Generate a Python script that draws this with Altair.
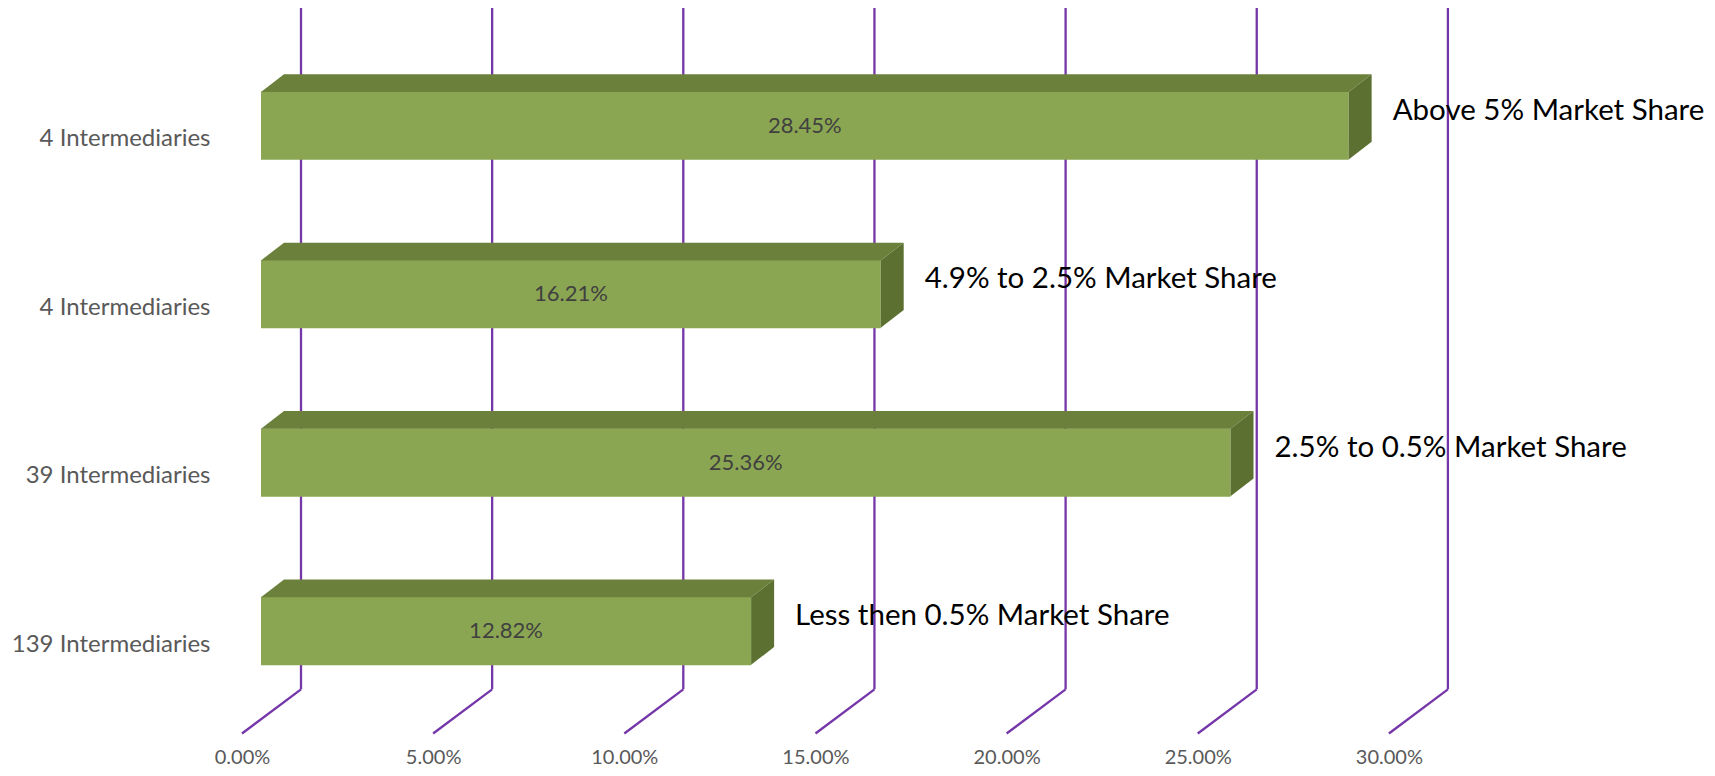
import altair as alt
import pandas as pd

# ---------------- data ----------------
categories = ["4 Intermediaries", "4 Intermediaries", "39 Intermediaries", "139 Intermediaries"]
shares = [28.45, 16.21, 25.36, 12.82]
bands = ["Above 5% Market Share", "4.9% to 2.5% Market Share",
         "2.5% to 0.5% Market Share", "Less then 0.5% Market Share"]
ticks = [0, 5, 10, 15, 20, 25, 30]

# ---------------- style constants ----------------
PX_X = 38.23          # pixels per 1 % on x
PX_Y = 170.8          # pixels per category step
W, H = 1487, 735
X0_PX = 41            # pixel position of 0 % (front face)
Y0_PX = 114.2         # pixel position of first category centre
HALF = 34.2 / PX_Y    # half bar thickness (index units)
DX = 23 / PX_X        # 3D depth, x (data units)
DY = 18 / PX_Y        # 3D depth, y (index units)

xdom = [-X0_PX / PX_X, (W - X0_PX) / PX_X]
ydom = [-Y0_PX / PX_Y, (H - Y0_PX) / PX_Y]

FRONT = "#8BA652"
TOP = "#6B803B"
SIDE = "#5C7131"
GRID = "#7436A8"
FONT = "Lato"

xs = alt.Scale(domain=xdom, nice=False, zero=False)
ys = alt.Scale(domain=ydom, nice=False, zero=False, reverse=True)

label_expr = "[" + ",".join("'%s'" % c for c in categories) + "][datum.value]"

bars = pd.DataFrame({"idx": range(len(shares)), "cat": categories,
                     "val": shares, "band": bands})
bars["zero"] = 0.0
bars["lab"] = [f"{v:.2f}%" for v in shares]

# 3D faces built from the values plus the fixed depth
top_rows, side_rows = [], []
for i, v in enumerate(shares):
    top_rows.append({"k": i, "y": i - HALF, "x": 0.0, "x2": v})
    top_rows.append({"k": i, "y": i - HALF - DY, "x": DX, "x2": v + DX})
    side_rows.append({"k": i, "x": v, "y": i - HALF, "y2": i + HALF})
    side_rows.append({"k": i, "x": v + DX, "y": i - HALF - DY, "y2": i + HALF - DY})
top_df = pd.DataFrame(top_rows)
side_df = pd.DataFrame(side_rows)
tick_df = pd.DataFrame({"t": ticks})

WALL_Y = 681.3
FLOOR_Y = 725.5

grid_v = alt.Chart(tick_df).mark_rule(color=GRID, strokeWidth=2.3, xOffset=40).encode(
    x=alt.X("t:Q", scale=xs), y=alt.value(-8), y2=alt.value(WALL_Y))
grid_d = alt.Chart(tick_df).mark_rule(color=GRID, strokeWidth=2.3, xOffset=40, x2Offset=-19).encode(
    x=alt.X("t:Q", scale=xs), x2="t:Q", y=alt.value(WALL_Y), y2=alt.value(FLOOR_Y))

axis_layer = alt.Chart(bars).mark_point(opacity=0).encode(
    x=alt.X("val:Q", scale=xs,
            axis=alt.Axis(values=ticks, labelExpr="format(datum.value/100, '.2%')",
                          title=None, domain=False, ticks=False, grid=False,
                          labelFont=FONT, labelFontSize=20, labelColor="#595959",
                          labelOffset=-19, labelPadding=4)),
    y=alt.Y("idx:Q", scale=ys,
            axis=alt.Axis(values=list(range(len(categories))), labelExpr=label_expr,
                          title=None, domain=False, ticks=False, grid=False,
                          labelFont=FONT, labelFontSize=24, labelColor="#595959",
                          labelOffset=13, labelPadding=10, labelLimit=400)),
)

front = alt.Chart(bars).mark_bar(color=FRONT, size=68.4, orient="horizontal").encode(
    x=alt.X("zero:Q", scale=xs), x2="val:Q", y=alt.Y("idx:Q", scale=ys))

top = alt.Chart(top_df).mark_area(color=TOP, orient="horizontal").encode(
    y=alt.Y("y:Q", scale=ys), x=alt.X("x:Q", scale=xs), x2="x2:Q", detail="k:N")

side = alt.Chart(side_df).mark_area(color=SIDE, orient="vertical").encode(
    x=alt.X("x:Q", scale=xs), y=alt.Y("y:Q", scale=ys), y2="y2:Q", detail="k:N")

inner = alt.Chart(bars).mark_text(font=FONT, fontSize=22, color="#404040").encode(
    x=alt.X("mid:Q", scale=xs), y=alt.Y("idx:Q", scale=ys), text="lab:N"
).transform_calculate(mid="datum.val/2")

outer = alt.Chart(bars).mark_text(font=FONT, fontSize=29.5, color="#000000",
                                  align="left", dx=44, dy=-15).encode(
    x=alt.X("val:Q", scale=xs), y=alt.Y("idx:Q", scale=ys), text="band:N")

chart = alt.layer(grid_v, grid_d, axis_layer, front, top, side, inner, outer).properties(
    width=W, height=H,
    background="white",
    autosize=alt.AutoSizeParams(type="none"),
    padding={"left": 212, "top": 0, "right": 0, "bottom": 25},
).configure_view(strokeWidth=0)

chart.save("out.html", embed_options={"renderer": "svg", "actions": False})
